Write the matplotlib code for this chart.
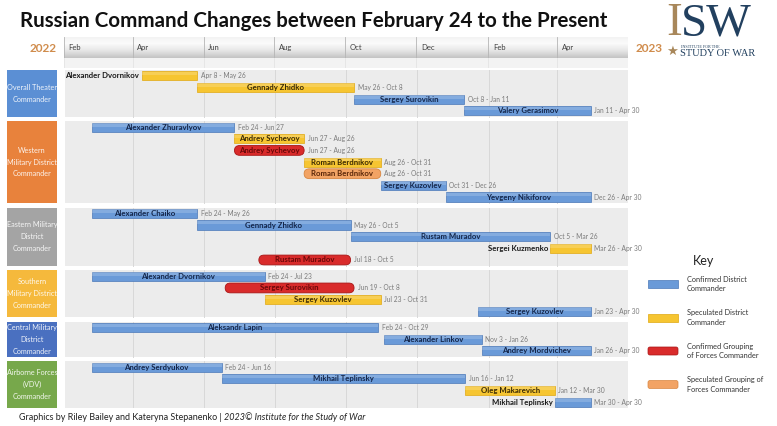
import datetime as dt
import numpy as np
import matplotlib.pyplot as plt
import matplotlib.dates as mdates
from matplotlib.patches import Rectangle, FancyBboxPatch
from matplotlib.colors import LinearSegmentedColormap
from matplotlib.text import Annotation

plt.rcParams['font.family'] = ['Lato', 'DejaVu Sans']

# Section labels and colours (left column)
section_labels = ["Overall Theater\nCommander",
                  "Western\nMilitary District\nCommander",
                  "Eastern Military\nDistrict\nCommander",
                  "Southern\nMilitary District\nCommander",
                  "Central Military\nDistrict\nCommander",
                  "Airborne Forces\n(VDV)\nCommander"]
section_colors = ["#5b8fd4", "#e8823c", "#a4a4a4", "#f5b93c", "#4a70c0", "#77a84b"]

# (name, start, end, kind) per section
overall = [("Alexander Dvornikov", "2022-04-08", "2022-05-26", "spec"),
           ("Gennady Zhidko", "2022-05-26", "2022-10-08", "spec"),
           ("Sergey Surovikin", "2022-10-08", "2023-01-11", "conf"),
           ("Valery Gerasimov", "2023-01-11", "2023-04-30", "conf")]
western = [("Alexander Zhuravlyov", "2022-02-24", "2022-06-27", "conf"),
           ("Andrey Sychevoy", "2022-06-27", "2022-08-26", "spec"),
           ("Andrey Sychevoy", "2022-06-27", "2022-08-26", "group"),
           ("Roman Berdnikov", "2022-08-26", "2022-10-31", "spec"),
           ("Roman Berdnikov", "2022-08-26", "2022-10-31", "group_spec"),
           ("Sergey Kuzovlev", "2022-10-31", "2022-12-26", "conf"),
           ("Yevgeny Nikiforov", "2022-12-26", "2023-04-30", "conf")]
eastern = [("Alexander Chaiko", "2022-02-24", "2022-05-26", "conf"),
           ("Gennady Zhidko", "2022-05-26", "2022-10-05", "conf"),
           ("Rustam Muradov", "2022-10-05", "2023-03-26", "conf"),
           ("Sergei Kuzmenko", "2023-03-26", "2023-04-30", "spec"),
           ("Rustam Muradov", "2022-07-18", "2022-10-05", "group")]
southern = [("Alexander Dvornikov", "2022-02-24", "2022-07-23", "conf"),
            ("Sergey Surovikin", "2022-06-19", "2022-10-08", "group"),
            ("Sergey Kuzovlev", "2022-07-23", "2022-10-31", "spec"),
            ("Sergey Kuzovlev", "2023-01-23", "2023-04-30", "conf")]
central = [("Aleksandr Lapin", "2022-02-24", "2022-10-29", "conf"),
           ("Alexander Linkov", "2022-11-03", "2023-01-26", "conf"),
           ("Andrey Mordvichev", "2023-01-26", "2023-04-30", "conf")]
airborne = [("Andrey Serdyukov", "2022-02-24", "2022-06-16", "conf"),
            ("Mikhail Teplinsky", "2022-06-16", "2023-01-12", "conf"),
            ("Oleg Makarevich", "2023-01-12", "2023-03-30", "spec"),
            ("Mikhail Teplinsky", "2023-03-30", "2023-04-30", "conf")]
sections = [overall, western, eastern, southern, central, airborne]

kinds = ["conf", "spec", "group", "group_spec"]
kind_labels = ["Confirmed District\nCommander", "Speculated District\nCommander",
               "Confirmed Grouping\nof Forces Commander", "Speculated Grouping of\nForces Commander"]
kind_colors = {"conf": "#6a9ad8", "spec": "#f6c531", "group": "#d92b2b", "group_spec": "#f2a364"}
kind_edges = {"conf": "#4a78b8", "spec": "#e0a810", "group": "#a81515", "group_spec": "#d88640"}
kind_text = {"conf": "#14264a", "spec": "#3a2a04", "group": "#6a0808", "group_spec": "#5a2608"}

tick_dates = ["2022-02-01", "2022-04-01", "2022-06-01", "2022-08-01", "2022-10-01",
              "2022-12-01", "2023-02-01", "2023-04-01"]
tick_labels = ["Feb", "Apr", "Jun", "Aug", "Oct", "Dec", "Feb", "Apr"]
x_start, x_end = "2022-02-01", "2023-06-01"


def d(s):
    return mdates.date2num(dt.date.fromisoformat(s))


def fmt(s):
    t = dt.date.fromisoformat(s)
    return f"{t:%b} {t.day}"


W, H = 777, 426


def box(x0, y0, x1, y1):
    return [x0 / W, 1 - y1 / H, (x1 - x0) / W, (y1 - y0) / H]


fig = plt.figure(figsize=(W / 100, H / 100), dpi=100)
fig.patch.set_facecolor("white")

gap = 0.4
total = sum(len(s) for s in sections) + gap * (len(sections) - 1)
xmin, xmax = d(x_start), d(x_end)
ticks = [d(t) for t in tick_dates]

# main chart
ax = fig.add_axes(box(65, 70, 628, 408))
ax.set_xlim(xmin, xmax)
ax.set_ylim(total, 0)
ax.axis("off")

# section labels
lab = fig.add_axes(box(7, 70, 57, 408))
lab.set_xlim(0, 1)
lab.set_ylim(total, 0)
lab.axis("off")

top = 0
for rows, label, scol in zip(sections, section_labels, section_colors):
    n = len(rows)
    ax.add_patch(Rectangle((xmin, top), xmax - xmin, n, color="#ececec", lw=0, zorder=0))
    for t in ticks[1:]:
        ax.plot([t, t], [top, top + n], color="#d8d8d8", lw=0.7, zorder=1)
    lab.add_patch(Rectangle((0, top), 1, n, color=scol, lw=0))
    lab.text(0.5, top + n / 2, label, ha="center", va="center", fontsize=5.2,
             color="white", alpha=0.9, linespacing=1.8)

    for i, (name, s, e, kind) in enumerate(rows):
        y = top + i + 0.5
        x0, x1 = d(s), d(e)
        w = x1 - x0
        if kind.startswith("group"):
            ax.add_patch(FancyBboxPatch((x0, y - 0.42), w, 0.84,
                                        boxstyle="round,pad=0,rounding_size=4.5",
                                        mutation_aspect=0.093,
                                        fc=kind_colors[kind], ec=kind_edges[kind], lw=0.6, zorder=3))
        else:
            ax.barh(y, w, left=x0, height=0.78, color=kind_colors[kind],
                    edgecolor=kind_edges[kind], lw=0.5, zorder=3)
            ax.barh(y - 0.2, w, left=x0, height=0.3, color="white", alpha=0.18, lw=0, zorder=4)
        if w > 50:
            ax.text(x0 + w / 2, y, name, ha="center", va="center", fontsize=5.6,
                    fontweight="bold", color=kind_text[kind], zorder=5)
        else:
            ax.text(x0 - 2, y, name, ha="right", va="center", fontsize=5.6,
                    fontweight="bold", color="#1a1a1a", zorder=5)
        ax.text(x1 + 3, y, f"{fmt(s)} - {fmt(e)}", ha="left", va="center",
                fontsize=4.8, color="#7a7a7a", zorder=5)
    top += n + gap

# timeline header
hdr = fig.add_axes(box(64, 37, 628, 58))
hdr.set_xlim(xmin, xmax)
hdr.set_ylim(0, 1)
hdr.axis("off")
cmap = LinearSegmentedColormap.from_list("hdr", ["#c4c4c4", "#e6e6e6", "#fbfbfb", "#f2f2f2"])
grad = np.linspace(0, 1, 50).reshape(-1, 1)
hdr.imshow(grad, extent=[xmin, xmax, 0, 1], aspect="auto", cmap=cmap, origin="lower", zorder=0)
for t, tl in zip(ticks, tick_labels):
    hdr.plot([t, t], [0, 1], color="#b5b5b5", lw=0.6, zorder=1)
    hdr.text(t + 4, 0.48, tl, ha="left", va="center", fontsize=5.5, color="#404040")

refl = fig.add_axes(box(64, 58, 628, 68))
refl.set_xlim(xmin, xmax)
refl.set_ylim(0, 1)
refl.axis("off")
refl.add_patch(Rectangle((xmin, 0), xmax - xmin, 1, color="#f3f3f3", lw=0))
for t in ticks:
    refl.plot([t, t], [0, 1], color="#e4e4e4", lw=0.6)

fig.text(43 / W, 1 - 48 / H, "2022", ha="center", va="center", fontsize=8.5,
         fontweight="bold", color="#d08c4c")
fig.text(649 / W, 1 - 49 / H, "2023", ha="center", va="center", fontsize=8.5,
         fontweight="bold", color="#d08c4c")

# title
fig.text(20 / W, 1 - 27 / H, "Russian Command Changes between February 24 to the Present",
         ha="left", va="baseline", fontsize=14.75, fontweight="bold", color="#111111")

# ISW logo
fig.text(666 / W, 1 - 35 / H, "I", ha="left", va="baseline", fontsize=34,
         family="Liberation Serif", color="#a8875a")
fig.text(681 / W, 1 - 35 / H, "SW", ha="left", va="baseline", fontsize=34,
         family="Liberation Serif", color="#22405f")
fig.text(672 / W, 1 - 51 / H, "\u2605", ha="center", va="center", fontsize=9.5,
         family="DejaVu Sans", color="#a8875a")
fig.text(681 / W, 1 - 46.5 / H, "INSTITUTE FOR THE", ha="left", va="center", fontsize=3,
         family="Liberation Serif", color="#22405f")
fig.text(680 / W, 1 - 53.5 / H, "STUDY OF WAR", ha="left", va="center", fontsize=7.5,
         family="Liberation Serif", color="#22405f")

# key
fig.text(704 / W, 1 - 261 / H, "Key", ha="center", va="center", fontsize=9, color="#222222")
key = fig.add_axes(box(630, 270, 777, 400))
key.set_xlim(0, 147)
key.set_ylim(130, 0)
key.axis("off")
for i, (k, kl) in enumerate(zip(kinds, kind_labels)):
    y = 14 + i * 33.5
    if k.startswith("group"):
        key.add_patch(FancyBboxPatch((18, y - 4), 30, 8, boxstyle="round,pad=0,rounding_size=2",
                                     fc=kind_colors[k], ec=kind_edges[k], lw=0.5))
    else:
        key.add_patch(Rectangle((18, y - 4), 30, 8, fc=kind_colors[k], ec=kind_edges[k], lw=0.5))
    key.text(57, y, kl, ha="left", va="center", fontsize=5.3, color="#333333", linespacing=1.4)

# footer
f1 = fig.text(19 / W, 1 - 417 / H, "Graphics by Riley Bailey and Kateryna Stepanenko | ",
              ha="left", va="center", fontsize=6.5, color="#222222")
fig.add_artist(Annotation("2023\u00a9 Institute for the Study of War", xy=(1, 0.5), xycoords=f1,
                          ha="left", va="center", fontsize=6.5, style="italic", color="#222222"))

fig.savefig("out.png", dpi=100)
